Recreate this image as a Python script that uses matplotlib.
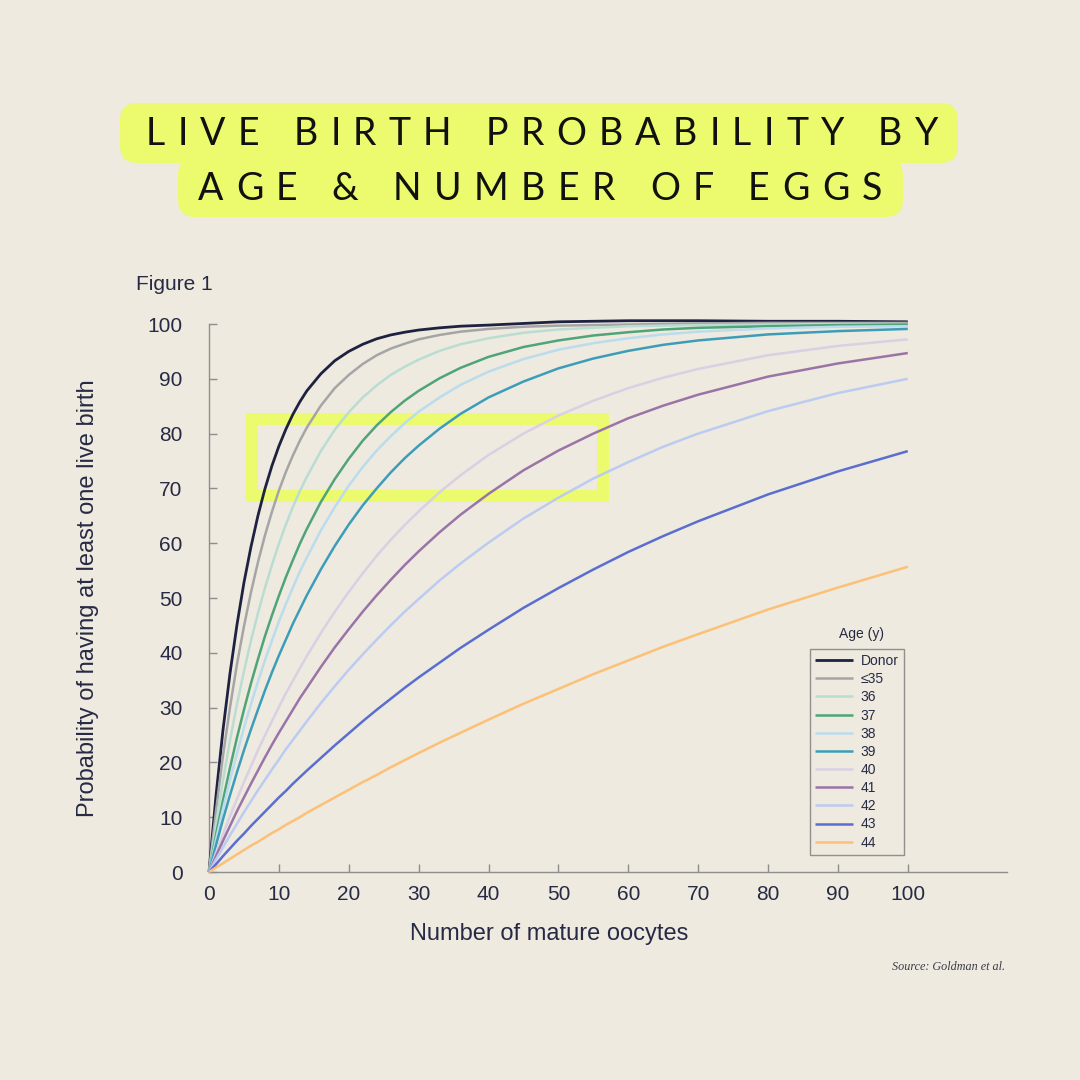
import matplotlib
matplotlib.use("Agg")
import numpy as np
from matplotlib import pyplot as plt
from matplotlib.patches import FancyBboxPatch, Rectangle

# number of mature oocytes at which the curves were read
oocytes = [0, 1, 2, 3, 4, 5, 6, 7, 8, 9, 10, 11, 12, 13, 14, 16, 18, 20, 22,
           24, 26, 28, 30, 33, 36, 40, 45, 50, 55, 60, 65, 70, 80, 90, 100]

# probability of at least one live birth (%)
donor = [0, 13.9, 25.9, 36.2, 45.1, 52.8, 59.3, 65.0, 69.9, 74.1, 77.7, 80.8,
         83.5, 85.8, 87.8, 90.9, 93.3, 95.0, 96.3, 97.3, 98.0, 98.5, 98.9,
         99.3, 99.6, 99.8, 100.1, 100.4, 100.5, 100.6, 100.6, 100.6, 100.5,
         100.5, 100.4]
age_35 = [0, 11.2, 21.2, 30.0, 37.9, 44.8, 51.0, 56.5, 61.4, 65.7, 69.6, 73.0,
          76.0, 78.7, 81.1, 85.1, 88.3, 90.7, 92.7, 94.3, 95.5, 96.4, 97.2,
          98.0, 98.6, 99.1, 99.5, 99.7, 99.8, 99.9, 100.0, 100.1, 100.2,
          100.2, 100.2]
age_36 = [0, 8.7, 16.7, 24.0, 30.6, 36.6, 42.2, 47.2, 51.8, 56.0, 59.9, 63.4,
          66.6, 69.5, 72.1, 76.8, 80.7, 83.9, 86.6, 88.8, 90.7, 92.2, 93.5,
          95.1, 96.3, 97.4, 98.4, 99.0, 99.3, 99.6, 99.7, 99.8, 99.9, 100.0,
          100.0]
age_37 = [0, 6.8, 13.1, 19.0, 24.5, 29.6, 34.4, 38.8, 43.0, 46.8, 50.4, 53.8,
          56.9, 59.9, 62.6, 67.5, 71.7, 75.4, 78.7, 81.5, 83.9, 86.0, 87.8,
          90.1, 92.0, 94.0, 95.8, 97.0, 97.9, 98.5, 99.0, 99.3, 99.6, 99.8,
          99.9]
age_38 = [0, 5.9, 11.5, 16.7, 21.6, 26.3, 30.6, 34.7, 38.6, 42.2, 45.7, 48.9,
          51.9, 54.8, 57.4, 62.3, 66.6, 70.5, 73.9, 76.9, 79.5, 81.9, 84.0,
          86.6, 88.9, 91.3, 93.6, 95.3, 96.5, 97.4, 98.1, 98.6, 99.2, 99.5,
          99.6]
age_39 = [0, 4.9, 9.6, 14.0, 18.2, 22.2, 26.0, 29.6, 33.1, 36.4, 39.5, 42.4,
          45.3, 47.9, 50.5, 55.2, 59.5, 63.4, 66.9, 70.0, 72.9, 75.5, 77.8,
          80.9, 83.6, 86.6, 89.5, 91.9, 93.7, 95.1, 96.2, 97.0, 98.1, 98.7,
          99.1]
age_40 = [0, 3.5, 6.9, 10.2, 13.3, 16.4, 19.3, 22.2, 24.9, 27.5, 30.1, 32.6,
          34.9, 37.2, 39.4, 43.6, 47.5, 51.1, 54.5, 57.7, 60.6, 63.3, 65.8,
          69.3, 72.4, 76.1, 80.0, 83.3, 86.0, 88.3, 90.2, 91.8, 94.3, 96.0,
          97.2]
age_41 = [0, 2.9, 5.7, 8.4, 11.1, 13.6, 16.1, 18.5, 20.9, 23.2, 25.4, 27.5,
          29.6, 31.7, 33.6, 37.4, 41.0, 44.3, 47.5, 50.5, 53.3, 56.0, 58.5,
          62.0, 65.2, 69.0, 73.3, 76.9, 80.0, 82.8, 85.1, 87.1, 90.4, 92.8,
          94.7]
age_42 = [0, 2.3, 4.5, 6.7, 8.8, 10.9, 12.9, 14.9, 16.8, 18.7, 20.5, 22.4,
          24.1, 25.8, 27.5, 30.8, 33.9, 36.9, 39.7, 42.4, 45.0, 47.5, 49.8,
          53.2, 56.3, 60.1, 64.5, 68.3, 71.8, 74.8, 77.6, 80.0, 84.1, 87.4,
          90.0]
age_43 = [0, 1.4, 2.9, 4.3, 5.7, 7.0, 8.4, 9.7, 11.0, 12.3, 13.6, 14.8,
          16.1, 17.3, 18.5, 20.8, 23.1, 25.3, 27.5, 29.6, 31.6, 33.6, 35.5,
          38.2, 40.9, 44.2, 48.2, 51.8, 55.2, 58.4, 61.3, 64.0, 68.9, 73.1,
          76.8]
age_44 = [0, 0.8, 1.6, 2.4, 3.2, 4.0, 4.8, 5.5, 6.3, 7.1, 7.8, 8.6,
          9.3, 10.0, 10.8, 12.2, 13.6, 15.0, 16.4, 17.7, 19.1, 20.4, 21.7,
          23.6, 25.4, 27.8, 30.7, 33.4, 36.1, 38.6, 41.1, 43.4, 47.9, 51.9,
          55.7]

labels = ['Donor', '≤35', '36', '37', '38', '39', '40', '41', '42', '43', '44']
series = [donor, age_35, age_36, age_37, age_38, age_39, age_40, age_41,
          age_42, age_43, age_44]
colours = ['#1e2240', '#a5a5a5', '#b9ddd2', '#4fa479', '#badced', '#3d9db9',
           '#d9d0e4', '#9a74a7', '#bccbf1', '#5a6ecf', '#fcc077']

x_ticks = [0, 10, 20, 30, 40, 50, 60, 70, 80, 90, 100]
y_ticks = [0, 10, 20, 30, 40, 50, 60, 70, 80, 90, 100]

bg = '#eeeadf'
lime = '#ebfb6d'
navy = '#272a44'
W = H = 1080

fig = plt.figure(figsize=(10.8, 10.8), dpi=100, facecolor=bg)

# title: two overlapping rounded boxes
for (x0, y0, x1, y1) in [(120, 103, 958, 163), (178, 158, 903, 217)]:
    fig.patches.append(FancyBboxPatch(
        (x0 / W + 0.016, 1 - y1 / H + 0.016), (x1 - x0) / W - 0.032,
        (y1 - y0) / H - 0.032, boxstyle='round,pad=0.016',
        transform=fig.transFigure, facecolor=lime, edgecolor='none'))


def tracked_text(s, left, right, cy, **kw):
    # draw s letter by letter so it spans from left to right (pixels)
    r = fig.canvas.get_renderer()
    widths = []
    for ch in s:
        if ch == ' ':
            widths.append(kw['fontsize'] * 100 / 72 * 0.25)
            continue
        t = fig.text(0, 0, ch, **kw)
        widths.append(t.get_window_extent(r).width)
        t.remove()
    gap = (right - left - sum(widths)) / (len(s) - 1)
    x = left
    for ch, w in zip(s, widths):
        if ch != ' ':
            fig.text(x / W, 1 - cy / H, ch, ha='left', va='center', **kw)
        x += w + gap


title_kw = dict(fontsize=27, family='Lato', color='#111111')
tracked_text('LIVE BIRTH PROBABILITY BY', 146, 938, 134, **title_kw)
tracked_text('AGE & NUMBER OF EGGS', 198, 882, 189, **title_kw)

ax = fig.add_axes([209 / W, 1 - 872 / H, 798 / W, 548 / H])
ax.set_facecolor(bg)

# highlight box behind the curves
ax.add_patch(Rectangle((6.1, 68.7), 50.3, 13.9, fill=False, edgecolor=lime,
                       linewidth=8.6, zorder=1, joinstyle='miter'))

for vals, lab, col in zip(series, labels, colours):
    ax.plot(oocytes, vals, color=col, linewidth=2.0 if lab == 'Donor' else 1.8,
            label=lab, zorder=3, solid_capstyle='butt', clip_on=False)

ax.set_xlim(0, 114.2)
ax.set_ylim(0, 100)
ax.set_xticks(x_ticks)
ax.set_yticks(y_ticks)
for s in ['top', 'right']:
    ax.spines[s].set_visible(False)
for s in ['left', 'bottom']:
    ax.spines[s].set_color('#8e8e8e')
    ax.spines[s].set_linewidth(1.0)
ax.tick_params(direction='in', length=6, width=1, color='#8e8e8e',
               labelcolor=navy, labelsize=15)
ax.tick_params(axis='y', pad=19)
ax.tick_params(axis='x', pad=9)
for lab in ax.get_xticklabels() + ax.get_yticklabels():
    lab.set_family('Liberation Sans')

ax.set_ylabel('Probability of having at least one live birth', fontsize=17,
              color=navy, family='Liberation Sans', va='center')
ax.yaxis.set_label_coords(-0.1516, 0.5)
ax.set_xlabel('Number of mature oocytes', fontsize=17, color=navy,
              family='Liberation Sans', va='center')
ax.xaxis.set_label_coords(0.426, -0.113)

leg = ax.legend(loc='upper left', bbox_to_anchor=(810 / W, 1 - 649 / H),
                bbox_transform=fig.transFigure, borderaxespad=0,
                frameon=True, fancybox=False, fontsize=10,
                handlelength=2.7, handletextpad=0.6, labelspacing=0.3,
                borderpad=0.36)
leg.get_frame().set_edgecolor('#7a7a7a')
leg.get_frame().set_facecolor(bg)
leg.get_frame().set_linewidth(1.0)
for t in leg.get_texts():
    t.set_color(navy)
    t.set_family('Liberation Sans')

fig.text(861 / W, 1 - 634 / H, 'Age (y)', ha='center', va='center',
         fontsize=10, color=navy, family='Liberation Sans')
fig.text(136 / W, 1 - 284 / H, 'Figure 1', ha='left', va='center',
         fontsize=15, color=navy, family='Liberation Sans')
fig.text(1005 / W, 1 - 967 / H, 'Source: Goldman et al.', ha='right',
         va='center', fontsize=8.7, color='#3a3a48',
         family='Liberation Serif', style='italic')

fig.savefig('out.png', dpi=100, facecolor=bg)
